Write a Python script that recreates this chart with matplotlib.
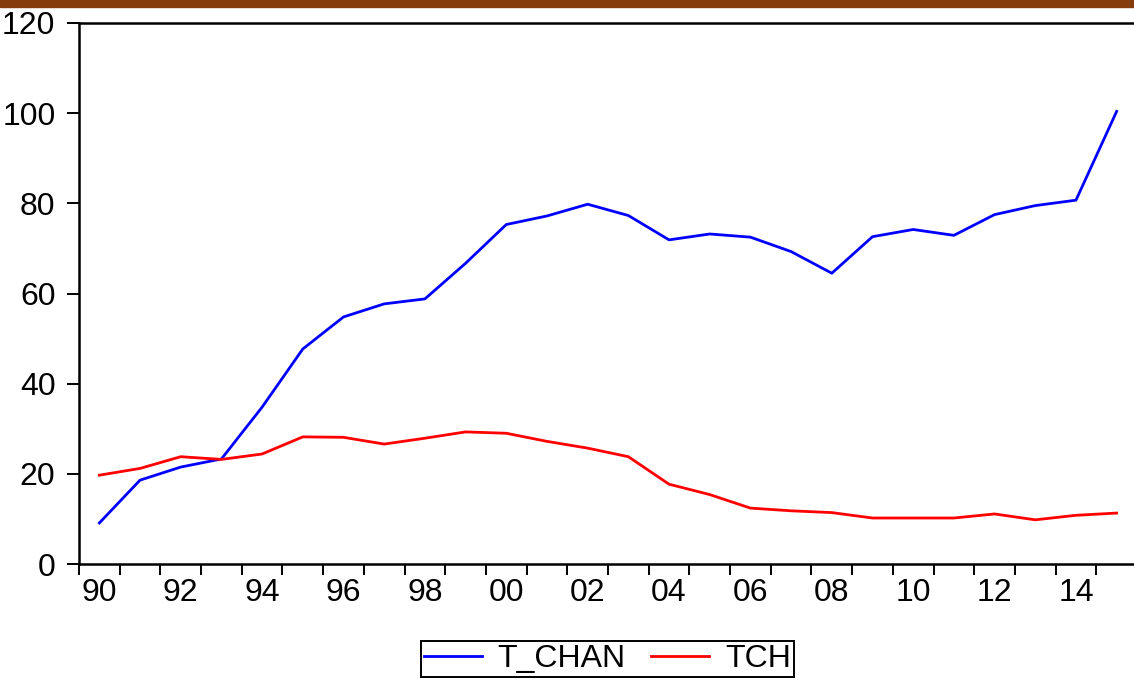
import matplotlib
matplotlib.use("Agg")
import matplotlib.pyplot as plt
import matplotlib.ticker as ticker
from matplotlib.patches import Rectangle

plt.rcParams["font.family"] = ["Liberation Sans Narrow", "Liberation Sans", "DejaVu Sans"]

# annual series, 1990-2015
years = list(range(1990, 2016))
t_chan = [9.1, 18.6, 21.5, 23.3, 34.8, 47.7, 54.8, 57.7, 58.8, 66.7,
          75.3, 77.2, 79.8, 77.3, 71.9, 73.2, 72.5, 69.3, 64.5, 72.6,
          74.2, 72.9, 77.5, 79.5, 80.7, 100.4]
tch = [19.7, 21.2, 23.8, 23.2, 24.4, 28.2, 28.1, 26.6, 27.9, 29.3,
       29.0, 27.2, 25.7, 23.8, 17.7, 15.4, 12.4, 11.8, 11.4, 10.2,
       10.2, 10.2, 11.1, 9.8, 10.8, 11.3]
y_ticks = [0, 20, 40, 60, 80, 100, 120]

W, H = 1134, 682
fig = plt.figure(figsize=(W / 100, H / 100), dpi=100)
ax = fig.add_axes([79 / W, 1 - 564 / H, 1058 / W, (564 - 23) / H])

# points sit in the middle of each year
x_mid = [y + 0.5 for y in years]
l1, = ax.plot(x_mid, t_chan, color="#0000FF", lw=2.0, label="T_CHAN")
l2, = ax.plot(x_mid, tch, color="#FF0000", lw=2.0, label="TCH")

ax.set_xlim(1990, 2016)
ax.set_ylim(0, 120)
ax.set_yticks(y_ticks)
ax.tick_params(axis="y", length=9, width=1.4, pad=8, labelsize=23)

# tick marks at each year boundary, labels centred on even years
ax.xaxis.set_major_locator(ticker.FixedLocator(years + [2016]))
ax.xaxis.set_major_formatter(ticker.NullFormatter())
ax.xaxis.set_minor_locator(ticker.FixedLocator([y + 0.5 for y in years if y % 2 == 0]))
ax.xaxis.set_minor_formatter(ticker.FuncFormatter(lambda x, pos: f"{int(x) % 100:02d}"))
ax.tick_params(axis="x", which="major", length=8, width=1.4, direction="out")
ax.tick_params(axis="x", which="minor", length=0, pad=10, labelsize=23)

for side in ["left", "bottom", "top"]:
    ax.spines[side].set_linewidth(1.8)
ax.spines["right"].set_visible(False)

leg = fig.legend(handles=[l1, l2], loc="upper center", ncol=2,
                 bbox_to_anchor=(607.5 / W, 1 - 641 / H),
                 fontsize=23, handlelength=1.8, handletextpad=0.5,
                 columnspacing=0.8, borderpad=0.1, borderaxespad=0,
                 fancybox=False, frameon=True, framealpha=1)
leg.get_frame().set_edgecolor("black")
leg.get_frame().set_linewidth(1.4)
for h in leg.legend_handles:
    h.set_linewidth(2.0)

# brown band along the top edge
fig.patches.append(Rectangle((0, 1 - 7 / H), 1, 7 / H, transform=fig.transFigure,
                             color="#843C0C", zorder=5))

fig.savefig("out.png", dpi=100)
